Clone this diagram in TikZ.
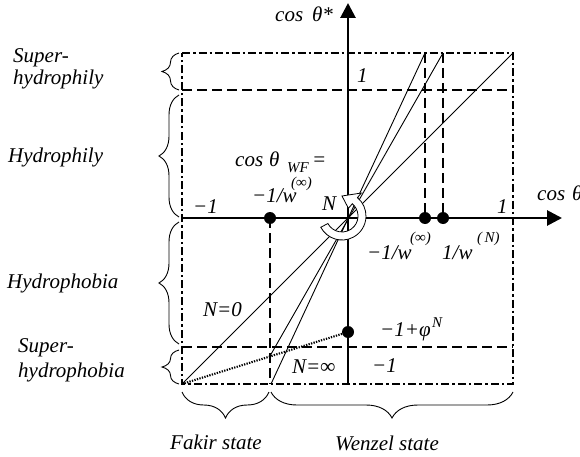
\documentclass[tikz,border=0pt]{standalone}
\usepackage{fontspec}
\setmainfont{Liberation Serif}[ItalicFont={Liberation Serif Italic}]
\usetikzlibrary{arrows.meta,calc,decorations.pathreplacing}
\begin{document}
\begin{tikzpicture}[x=1pt,y=-1pt,
  lab/.style={font=\fontsize{21}{24}\selectfont\itshape, inner sep=0pt, anchor=base west},
  suplab/.style={font=\fontsize{15}{17}\selectfont\itshape, inner sep=0pt, anchor=base west},
  axis/.style={line width=2.8pt, -{Triangle[length=15pt,width=15pt]}},
  dashdot/.style={line width=1.9pt, dash pattern=on 8pt off 3pt on 2.5pt off 3pt},
  dashline/.style={line width=1.9pt, dash pattern=on 10pt off 5pt},
  thinline/.style={line width=0.9pt},
  dotline/.style={line width=2.1pt, dash pattern=on 1.3pt off 1.3pt},
  dotnode/.style={circle, fill=black, inner sep=0pt, minimum size=12pt},
  bracestyle/.style={line width=0.9pt, decorate, decoration={brace, amplitude=#1}}
]
\useasboundingbox (0,0) rectangle (580,457);
% key points
\coordinate (O) at (348,218);
\coordinate (TL) at (182,53);
\coordinate (TR) at (513,53);
\coordinate (BR) at (513,384);
\coordinate (BL) at (182,384);
\coordinate (L) at (182,218);
\coordinate (Xend) at (562,218);
\coordinate (Ybot) at (348,384);
\coordinate (Yend) at (348,3);
\coordinate (H1a) at (182,90);
\coordinate (H1b) at (513,90);
\coordinate (H2a) at (182,347);
\coordinate (H2b) at (513,347);
\coordinate (V1t) at (270,218);
\coordinate (V1b) at (270,384);
\coordinate (V2t) at (425,53);
\coordinate (V2b) at (425,218);
\coordinate (V3t) at (443,53);
\coordinate (V3b) at (443,218);
\coordinate (Aend) at (271,384);
\coordinate (Bend) at (270,356);
\coordinate (Pdot) at (348,332);

% box and guides
\draw[dashdot] (TL) -- (TR) -- (BR) -- (BL) -- cycle;
\draw[dashline] (H1a) -- (H1b);
\draw[dashline] (H2a) -- (H2b);
\draw[dashline] (V1t) -- (V1b);
\draw[dashline] (V2t) -- (V2b);
\draw[dashline] (V3t) -- (V3b);

% lines through origin
\draw[thinline] (BL) -- (TR);
\draw[thinline] (Aend) -- (V2t);
\draw[thinline] (Bend) -- (V3t);
\draw[dotline] (BL) -- (Pdot);

% axes
\draw[axis] (L) -- (Xend);
\draw[axis] (Ybot) -- (Yend);

% dots
\node[dotnode] (d1) at (V1t) {};
\node[dotnode] (d2) at (V2b) {};
\node[dotnode] (d3) at (V3b) {};
\node[dotnode] (d4) at (Pdot) {};

% circular arrow
\coordinate (C) at (342,216);
\draw[line width=0.8pt, fill=white]
  ($(C)+(152:24)$) arc[start angle=152, end angle=-50, radius=24]
  -- ($(C)+(-50:30)$) -- ($(C)+(-90:20)$) -- ($(C)+(-50:10)$)
  -- ($(C)+(-50:16)$) arc[start angle=-50, end angle=152, radius=16] -- cycle;

% braces left
\draw[bracestyle=17] (179,90) -- (179,53);
\draw[bracestyle=20] (179,217) -- (179,95);
\draw[bracestyle=20] (179,344) -- (179,222);
\draw[bracestyle=17] (179,384) -- (179,350);
% braces bottom
\draw[bracestyle=26] (269,392) -- (182,392);
\draw[bracestyle=26] (513,392) -- (271,392);

% labels
\node[lab] (yl) at (275,22) {cos\hspace{9pt}θ*};
\node[lab] (xl) at (537,200) {cos\hspace{7pt}θ};
\node[lab] (one1) at (357,83) {1};
\node[lab] (one2) at (497,213) {1};
\node[lab] (mone1) at (193,213) {−1};
\node[lab] (cwf) at (235,167) {cos\hspace{6pt}θ};
\node[suplab] (wf) at (287,172) {WF};
\node[lab] (eq) at (312,167) {=};
\node[lab] (w1) at (252,202) {−1/w};
\node[suplab] (w1s) at (291,187) {(∞)};
\node[lab] (nn) at (322,210) {N};
\node[lab] (w2) at (367,259) {−1/w};
\node[suplab] (w2s) at (410,242) {(∞)};
\node[lab] (w3) at (442,259) {1/w};
\node[suplab] (w3s) at (477,242) {(\,N)};
\node[lab] (phi) at (380,336) {−1+φ};
\node[suplab] (phis) at (432,327) {N};
\node[lab] (ninf) at (292,373) {N=∞};
\node[lab] (mone2) at (372,372) {−1};
\node[lab] (nzero) at (203,316) {N=0};
\node[lab] (fak) at (170,449) {Fakir state};
\node[lab] (wen) at (335,450) {Wenzel state};
\node[lab] (sp1) at (13,63) {Super-};
\node[lab] (sp2) at (13,85) {hydrophily};
\node[lab] (hph) at (8,163) {Hydrophily};
\node[lab] (hpb) at (7,288) {Hydrophobia};
\node[lab] (sb1) at (18,352) {Super-};
\node[lab] (sb2) at (18,377) {hydrophobia};
\end{tikzpicture}
\end{document}
